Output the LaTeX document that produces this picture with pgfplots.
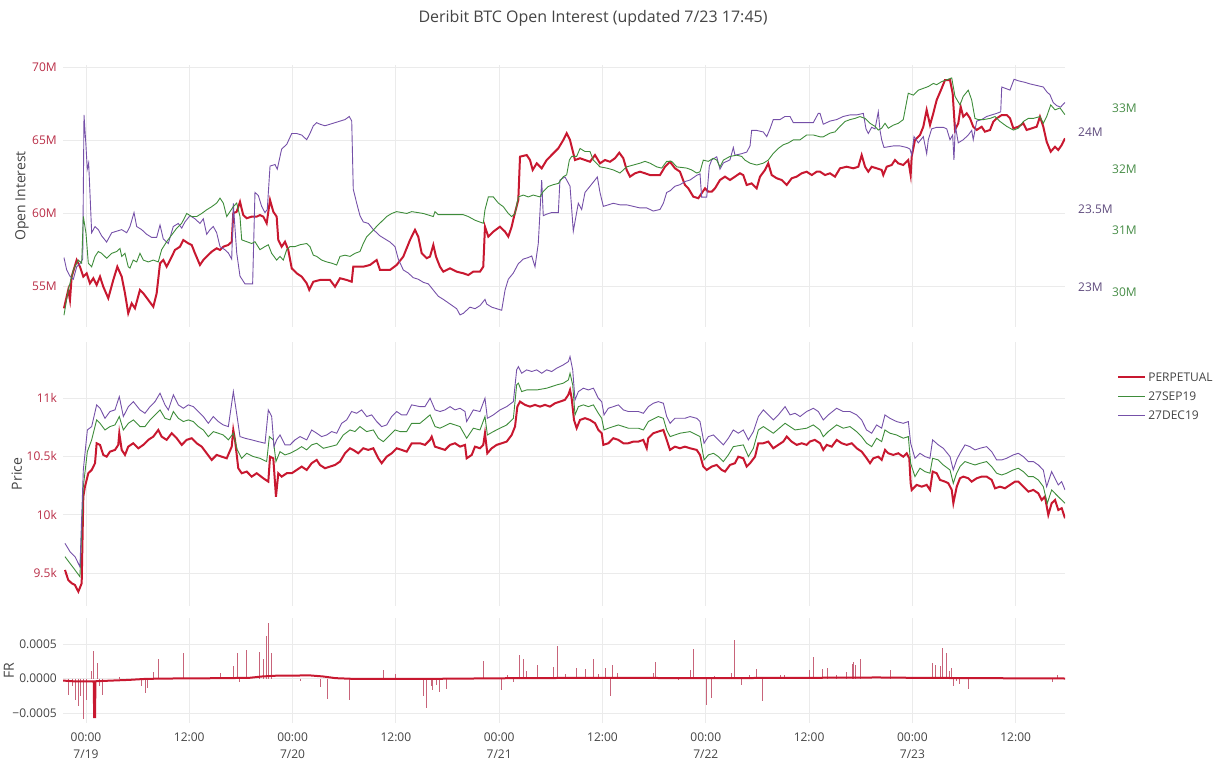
\documentclass[border=0pt]{standalone}
\usepackage{pgfplots}
\pgfplotsset{compat=1.18}
\usepackage{fontspec}
\setmainfont{Open Sans}
\definecolor{cRed}{RGB}{200,24,48}
\definecolor{cGreen}{RGB}{62,140,58}
\definecolor{cPurple}{RGB}{117,80,168}
\definecolor{cThin}{RGB}{200,100,122}
\definecolor{lRed}{RGB}{185,45,70}
\definecolor{lGreen}{RGB}{70,140,70}
\definecolor{lPurple}{RGB}{95,75,125}
\definecolor{gridc}{RGB}{235,235,235}
\definecolor{textc}{RGB}{68,68,68}
\pgfplotsset{
  panel/.style={scale only axis, width=1002pt, xmin=-2.67, xmax=113.73,
    anchor=south west, axis line style={draw=none}, major tick length=0pt,
    xtick={0,12,...,108}, xticklabels={}, enlargelimits=false,
    major grid style={draw=gridc, line width=0.9pt},
    tick label style={font=\fontsize{12}{14}\selectfont, text=textc},
    yticklabel style={inner sep=0pt, xshift=-6pt},
    scaled y ticks=false},
  ylab/.style={every axis y label/.style={at={(axis description cs:#1,0.5)}, rotate=90, anchor=center,
    font=\fontsize{14}{16}\selectfont, text=textc}},
  overlay/.style={scale only axis, width=1002pt, xmin=-2.67, xmax=113.73,
    anchor=south west, axis line style={draw=none}, major tick length=0pt,
    xtick=\empty, enlargelimits=false, yticklabel pos=right,
    tick label style={font=\fontsize{12}{14}\selectfont},
    yticklabel style={inner sep=0pt, anchor=west}, scaled y ticks=false},
}
\begin{document}
\begin{tikzpicture}
\useasboundingbox (0pt,0pt) rectangle (1223pt,771pt);
\node[font=\fontsize{16}{19}\selectfont, text=textc] at (593pt,753pt) {Deribit BTC Open Interest (updated 7/23 17:45)};
% ---------------- TOP: Open Interest ----------------
\begin{axis}[panel, at={(63pt,444pt)}, height=262pt, ymin=52.19, ymax=70.14,
  xmajorgrids, ymajorgrids, ytick={55,60,65,70}, yticklabels={55M,60M,65M,70M},
  yticklabel style={text=lRed},
  ylabel={Open Interest}, ylab=-0.0409]
\addplot[cRed, line width=2pt] coordinates {
(-2.56,53.47) (-2.06,54.73) (-1.86,54.04) (-1.66,55.64) (-1.08,56.78) (-0.70,56.32) (-0.31,55.64) (0.08,55.87) (0.46,55.18) (0.85,55.53) (1.24,55.07) (1.63,55.64) (2.01,54.95) (2.59,54.16) (3.17,55.41) (3.64,56.32) (4.15,55.64) (4.53,54.50) (4.91,53.13) (5.31,53.81) (5.69,53.47) (6.27,54.73) (6.66,54.50) (7.24,54.04) (7.82,53.58) (8.21,54.50) (8.60,56.55) (8.98,56.78) (9.37,56.32) (9.96,57.01) (10.34,57.47) (10.92,57.69) (11.30,58.15) (11.88,57.92) (12.28,57.81) (12.66,57.24) (13.24,56.44) (13.63,56.78) (14.02,57.01) (14.60,57.35) (15.18,57.58) (15.57,57.47) (15.95,57.69) (16.53,57.81) (16.93,58.03) (17.11,59.98) (17.51,60.09) (17.89,60.77) (18.27,59.86) (18.67,59.64) (19.25,59.75) (19.83,59.75) (20.21,59.86) (20.60,59.75) (20.99,59.29) (21.38,60.89) (21.76,60.09) (22.15,59.75) (22.34,58.15) (22.73,57.69) (23.12,58.03) (23.50,57.47) (23.90,56.21) (24.48,55.87) (25.06,55.64) (25.64,55.18) (25.94,54.73) (26.41,55.29) (27.18,55.41) (28.35,55.41) (28.93,54.95) (29.51,55.53) (30.29,55.41) (30.87,55.29) (31.05,56.32) (32.21,56.32) (32.99,56.44) (33.77,56.78) (34.15,56.10) (35.32,56.10) (36.09,56.44) (36.86,57.01) (37.64,58.15) (38.22,58.84) (38.60,58.38) (39.00,57.24) (39.58,56.90) (39.96,57.01) (40.35,57.81) (40.66,57.01) (41.12,56.32) (41.51,55.98) (42.29,56.21) (43.06,55.98) (43.83,55.87) (44.41,55.75) (44.99,55.98) (45.77,55.98) (46.15,56.32) (46.35,59.06) (46.74,58.38) (47.32,58.72) (48.09,59.06) (48.68,58.72) (49.06,58.38) (49.45,59.06) (49.72,59.75) (50.22,60.89) (50.42,63.86) (51.20,63.97) (51.58,63.63) (51.89,62.95) (52.36,63.40) (52.94,63.06) (53.52,63.63) (54.29,64.09) (54.87,64.43) (55.45,65.00) (55.84,65.46) (56.23,65.00) (56.81,63.63) (57.39,63.75) (57.97,63.63) (58.55,63.51) (59.13,63.97) (59.71,63.40) (60.29,63.63) (60.87,63.51) (61.45,63.75) (61.95,64.13) (62.42,63.75) (62.81,62.95) (63.20,62.49) (63.78,62.72) (64.36,62.83) (64.94,62.72) (65.52,62.60) (66.68,62.60) (67.26,63.17) (67.84,63.51) (68.42,63.06) (69.00,62.83) (69.58,61.92) (69.97,61.69) (70.55,61.12) (71.13,61.01) (71.52,61.35) (71.91,61.69) (72.29,61.46) (72.69,61.46) (73.07,61.69) (73.65,62.26) (74.23,62.49) (74.81,62.26) (75.39,62.49) (75.97,62.72) (76.35,62.60) (76.75,61.92) (77.33,62.03) (77.91,61.69) (78.30,62.49) (78.88,62.95) (79.26,63.40) (79.66,62.60) (80.24,62.38) (80.82,62.26) (81.40,61.92) (81.98,62.38) (82.56,62.49) (83.14,62.72) (83.72,62.83) (84.31,62.60) (84.89,62.83) (85.27,62.83) (85.85,62.60) (86.43,62.72) (87.01,62.49) (87.59,63.06) (88.37,63.17) (89.14,63.06) (89.72,63.17) (90.11,63.97) (90.50,63.17) (90.88,62.83) (91.27,63.17) (91.85,63.06) (92.43,62.95) (92.62,62.60) (93.02,63.17) (93.60,63.29) (93.98,63.63) (94.36,63.40) (94.94,63.29) (95.52,63.63) (95.80,62.60) (95.92,63.86) (96.30,65.00) (96.88,65.34) (97.27,65.91) (97.66,67.06) (98.05,66.03) (98.43,66.83) (98.82,67.74) (99.40,68.54) (99.79,69.11) (100.37,69.11) (100.68,68.20) (100.95,65.69) (101.33,66.14) (101.61,67.28) (101.91,66.60) (102.31,66.83) (102.69,66.49) (103.07,65.91) (103.47,65.69) (104.05,65.91) (104.43,65.57) (105.02,65.69) (105.40,66.25) (105.80,66.49) (106.38,66.71) (106.96,66.71) (107.34,66.49) (107.73,65.80) (108.31,65.91) (108.89,66.14) (109.28,65.69) (109.86,65.80) (110.44,65.91) (110.82,66.60) (111.21,65.91) (111.60,64.88) (112.07,64.20) (112.57,64.54) (112.95,64.32) (113.35,64.66) (113.73,65.12)};
\end{axis}
\begin{axis}[overlay, at={(63pt,444pt)}, height=262pt, ymin=22.742, ymax=24.432,
  ytick={23,23.5,24}, yticklabels={23M,23.5M,24M}, yticklabel style={text=lPurple, xshift=13pt}]
\addplot[cPurple, line width=0.9pt] coordinates {
(-2.56,23.19) (-2.24,23.11) (-1.86,23.07) (-1.47,23.05) (-1.08,23.13) (-0.70,23.15) (-0.38,23.18) (-0.23,24.11) (0.00,23.91) (0.15,23.76) (0.31,23.80) (0.46,23.61) (0.66,23.35) (1.05,23.39) (1.43,23.37) (1.82,23.33) (2.40,23.29) (2.99,23.35) (3.57,23.36) (4.15,23.37) (4.73,23.35) (5.11,23.39) (5.58,23.48) (5.89,23.39) (6.47,23.37) (7.05,23.34) (7.63,23.32) (8.21,23.32) (8.60,23.40) (8.98,23.31) (9.56,23.28) (10.14,23.39) (10.72,23.41) (11.12,23.38) (11.50,23.42) (12.08,23.46) (12.66,23.44) (13.24,23.41) (13.63,23.44) (14.02,23.34) (14.41,23.37) (14.79,23.39) (15.18,23.35) (15.57,23.26) (16.15,23.24) (16.53,23.22) (16.93,23.18) (17.11,23.54) (17.51,23.22) (17.89,23.07) (18.47,23.02) (19.36,23.02) (19.63,23.61) (20.02,23.59) (20.41,23.52) (20.79,23.48) (21.06,23.50) (21.38,23.78) (21.96,23.79) (22.22,23.76) (22.73,23.89) (23.32,23.92) (23.90,23.99) (24.48,23.99) (25.06,23.98) (25.64,23.95) (26.02,23.99) (26.41,24.04) (26.80,24.06) (27.18,24.05) (27.76,24.04) (28.35,24.05) (28.93,24.06) (29.51,24.07) (30.09,24.08) (30.59,24.10) (30.87,24.07) (31.05,23.63) (31.45,23.54) (31.83,23.46) (32.21,23.42) (32.80,23.41) (33.38,23.37) (33.77,23.35) (34.15,23.33) (34.73,23.31) (35.32,23.29) (35.90,23.26) (36.28,23.18) (36.86,23.11) (37.44,23.09) (38.02,23.06) (38.60,23.05) (39.19,23.03) (39.77,23.02) (40.35,22.98) (40.93,22.94) (41.51,22.92) (42.29,22.89) (43.06,22.86) (43.45,22.82) (43.83,22.83) (44.22,22.85) (44.61,22.87) (45.19,22.86) (45.77,22.88) (46.35,22.92) (46.55,22.89) (47.13,22.87) (47.71,22.86) (48.29,22.85) (48.68,22.98) (49.06,23.05) (49.64,23.09) (50.22,23.15) (50.80,23.18) (51.38,23.19) (51.78,23.20) (52.16,23.13) (52.54,23.28) (52.94,23.69) (53.12,23.46) (53.52,23.47) (54.10,23.48) (54.87,23.48) (55.06,23.69) (55.64,23.71) (55.84,23.69) (56.23,23.65) (56.61,23.36) (57.19,23.54) (57.58,23.50) (57.97,23.61) (58.55,23.65) (59.13,23.69) (59.40,23.71) (59.71,23.61) (60.10,23.52) (61.26,23.54) (62.03,23.53) (62.81,23.53) (63.58,23.52) (64.36,23.51) (65.14,23.51) (65.90,23.49) (66.68,23.50) (67.07,23.54) (67.46,23.61) (67.84,23.62) (68.42,23.65) (69.00,23.66) (69.58,23.68) (70.17,23.69) (70.94,23.72) (71.33,23.73) (71.52,23.58) (72.11,23.58) (72.41,23.78) (72.69,23.82) (73.27,23.84) (73.65,23.76) (74.04,23.80) (74.81,23.82) (75.20,23.90) (75.39,23.85) (76.17,23.86) (76.75,23.87) (77.14,23.91) (77.33,24.01) (77.91,24.01) (78.68,24.00) (79.08,23.97) (79.46,24.02) (79.84,24.08) (80.62,24.08) (81.20,24.10) (81.78,24.10) (82.17,24.06) (83.72,24.06) (84.49,24.06) (85.07,24.12) (85.27,24.12) (85.65,24.05) (86.43,24.07) (87.21,24.08) (87.97,24.10) (88.75,24.11) (89.53,24.11) (90.30,24.12) (90.61,24.02) (90.88,23.99) (91.27,24.03) (91.66,24.02) (92.04,24.13) (92.24,24.01) (92.43,23.95) (92.70,23.90) (93.78,23.91) (94.56,23.91) (95.34,23.90) (95.72,23.89) (95.92,23.85) (96.19,23.97) (96.69,23.93) (97.27,23.97) (97.66,23.86) (97.85,23.95) (98.24,24.02) (98.82,24.03) (99.59,24.03) (99.99,24.02) (100.37,23.95) (100.68,23.98) (100.83,23.82) (100.99,24.04) (101.33,23.93) (101.91,23.95) (102.49,23.98) (102.89,24.01) (103.07,23.95) (103.47,24.07) (104.05,24.08) (104.63,24.10) (105.21,24.11) (105.80,24.12) (106.26,24.13) (106.38,24.29) (107.34,24.27) (107.81,24.34) (108.31,24.33) (109.08,24.32) (109.66,24.31) (110.44,24.30) (111.21,24.29) (111.60,24.26) (111.98,24.24) (112.36,24.19) (112.76,24.17) (113.22,24.16) (113.53,24.18) (113.73,24.19)};
\end{axis}
\begin{axis}[overlay, at={(63pt,444pt)}, height=262pt, ymin=29.429, ymax=33.701,
  ytick={30,31,32,33}, yticklabels={30M,31M,32M,33M}, yticklabel style={text=lGreen, xshift=47pt}]
\addplot[cGreen, line width=0.9pt] coordinates {
(-2.56,29.62) (-2.06,30.03) (-1.47,30.36) (-0.89,30.52) (-0.50,30.47) (-0.31,31.23) (0.00,30.96) (0.27,30.47) (0.66,30.41) (1.05,30.58) (1.43,30.66) (1.82,30.63) (2.40,30.55) (2.99,30.63) (3.57,30.66) (3.95,30.71) (4.15,30.58) (4.53,30.63) (4.91,30.41) (5.11,30.39) (5.49,30.52) (5.89,30.49) (6.27,30.63) (6.66,30.52) (7.24,30.49) (7.82,30.52) (8.40,30.49) (8.79,30.69) (9.37,30.82) (9.96,30.93) (10.54,31.04) (11.12,31.12) (11.70,31.28) (12.28,31.23) (12.86,31.23) (13.44,31.28) (14.02,31.34) (14.60,31.39) (15.18,31.45) (15.57,31.53) (15.95,31.45) (16.35,31.23) (16.73,31.31) (17.11,31.39) (17.51,31.45) (17.89,31.23) (18.09,30.85) (18.67,30.82) (19.25,30.79) (19.63,30.82) (20.21,30.69) (20.79,30.74) (21.18,30.77) (21.57,30.63) (22.15,30.52) (22.54,30.58) (22.92,30.52) (23.32,30.69) (23.70,30.74) (24.28,30.74) (24.86,30.77) (25.64,30.79) (26.02,30.74) (26.41,30.60) (26.80,30.58) (27.38,30.52) (27.96,30.49) (28.54,30.47) (29.12,30.44) (29.51,30.58) (30.09,30.60) (30.67,30.58) (31.25,30.63) (31.83,30.66) (32.21,30.79) (32.61,30.90) (33.19,30.98) (33.77,31.07) (34.35,31.15) (34.93,31.23) (35.51,31.28) (36.09,31.31) (37.26,31.28) (37.84,31.31) (39.19,31.28) (40.35,31.23) (40.54,31.31) (40.93,31.26) (42.29,31.26) (43.83,31.26) (44.41,31.23) (45.19,31.17) (46.15,31.12) (46.35,31.34) (46.74,31.55) (47.32,31.55) (47.90,31.45) (48.48,31.39) (49.06,31.28) (49.45,31.23) (49.84,31.28) (50.22,31.55) (50.80,31.58) (51.38,31.55) (51.96,31.58) (52.74,31.55) (53.12,31.64) (53.71,31.72) (54.29,31.75) (54.87,31.77) (55.45,31.88) (55.84,31.91) (56.15,32.15) (56.42,32.21) (57.00,32.21) (57.39,32.34) (57.97,32.29) (58.55,32.29) (58.93,32.15) (59.71,32.04) (60.49,32.02) (61.26,31.99) (62.03,31.94) (62.81,32.04) (63.58,32.07) (64.36,32.10) (64.94,32.13) (65.52,32.10) (66.30,32.04) (66.88,32.02) (67.46,32.13) (68.04,32.13) (68.62,32.04) (69.78,32.02) (70.36,31.99) (70.94,31.94) (71.33,31.96) (71.71,32.15) (72.29,32.13) (72.87,32.18) (73.27,32.15) (73.65,32.04) (74.04,32.15) (74.81,32.21) (75.59,32.23) (76.17,32.21) (76.55,32.15) (77.14,32.10) (77.91,32.07) (78.68,32.10) (79.26,32.15) (79.84,32.26) (80.42,32.34) (81.00,32.40) (81.58,32.43) (82.17,32.48) (82.94,32.48) (83.72,32.56) (84.49,32.56) (85.27,32.53) (85.65,32.53) (86.43,32.59) (87.01,32.61) (87.59,32.70) (88.17,32.78) (88.75,32.81) (89.33,32.83) (89.91,32.86) (90.50,32.83) (91.08,32.75) (91.66,32.70) (92.04,32.64) (92.43,32.67) (92.82,32.75) (93.20,32.67) (93.78,32.72) (94.36,32.75) (94.94,32.81) (95.52,33.24) (96.11,33.21) (96.69,33.29) (97.27,33.32) (97.85,33.35) (98.43,33.40) (98.82,33.38) (99.40,33.43) (99.99,33.46) (100.57,33.49) (100.95,33.19) (101.53,33.05) (101.91,33.19) (102.49,33.29) (102.89,33.13) (103.27,32.83) (103.66,32.81) (104.24,32.81) (105.02,32.83) (105.60,32.86) (106.18,32.78) (106.96,32.70) (107.73,32.64) (108.31,32.67) (108.89,32.78) (109.47,32.83) (110.05,32.83) (110.82,32.86) (111.21,32.75) (111.60,32.86) (112.07,33.05) (112.57,32.97) (113.15,33.00) (113.73,32.89)};
\end{axis}
% ---------------- MIDDLE: Price ----------------
\begin{axis}[panel, at={(63pt,165pt)}, height=264pt, ymin=9217, ymax=11480,
  xmajorgrids, ymajorgrids, ytick={9500,10000,10500,11000}, yticklabels={9.5k,10k,10.5k,11k},
  yticklabel style={text=lRed},
  ylabel={Price}, ylab=-0.0462,
  legend style={at={(axis description cs:1.052,0.893)}, anchor=north west, draw=none, fill=none,
    font=\fontsize{12}{14}\selectfont, text=textc, row sep=5pt, inner sep=0pt, cells={anchor=west}},
  legend cell align=left,
  legend image code/.code={\draw[#1] (0pt,0pt) -- (27pt,0pt);}]
\addplot[cRed, line width=2pt] coordinates {
(-2.44,9526) (-2.06,9440) (-1.66,9412) (-1.28,9397) (-0.89,9340) (-0.50,9412) (-0.31,10154) (-0.12,10240) (0.27,10355) (0.66,10383) (1.05,10441) (1.24,10612) (1.63,10598) (2.01,10512) (2.40,10497) (2.79,10540) (3.37,10555) (3.75,10598) (3.87,10698) (4.15,10555) (4.53,10512) (4.91,10583) (5.49,10612) (6.08,10569) (6.66,10598) (7.24,10641) (7.82,10669) (8.40,10726) (8.79,10669) (9.37,10641) (9.96,10698) (10.54,10655) (11.12,10598) (11.70,10641) (12.28,10655) (12.86,10612) (13.44,10583) (14.02,10526) (14.60,10469) (15.18,10512) (15.76,10497) (16.35,10483) (16.93,10583) (17.11,10726) (17.31,10641) (17.69,10398) (18.09,10355) (18.67,10369) (19.25,10326) (19.83,10355) (20.60,10312) (21.18,10283) (21.38,10497) (21.76,10483) (22.07,10154) (22.34,10355) (22.73,10326) (23.32,10355) (23.90,10355) (24.48,10383) (25.06,10412) (25.64,10383) (26.22,10441) (26.80,10469) (27.18,10426) (27.76,10398) (28.35,10412) (28.93,10426) (29.51,10455) (30.09,10526) (30.67,10569) (31.05,10555) (31.63,10526) (32.21,10569) (32.80,10555) (33.38,10569) (33.96,10483) (34.35,10441) (34.93,10497) (35.51,10526) (36.09,10569) (36.67,10555) (37.26,10540) (37.84,10612) (38.80,10612) (39.38,10598) (39.96,10641) (40.16,10669) (40.54,10583) (41.12,10569) (41.70,10555) (42.29,10598) (42.87,10612) (43.45,10583) (44.03,10598) (44.22,10483) (44.81,10512) (45.19,10583) (45.77,10569) (46.15,10598) (46.35,10698) (46.62,10526) (47.13,10569) (47.71,10598) (48.29,10612) (48.87,10626) (49.45,10683) (49.84,10755) (50.11,10926) (50.42,10969) (51.00,10941) (51.58,10926) (52.16,10941) (52.74,10926) (53.32,10941) (53.90,10926) (54.48,10955) (55.06,10969) (55.64,10984) (56.03,11027) (56.23,11069) (56.42,10998) (56.69,10812) (57.00,10741) (57.39,10812) (57.97,10827) (58.55,10812) (59.13,10784) (59.52,10726) (59.91,10698) (60.10,10598) (60.68,10612) (61.26,10655) (61.84,10641) (62.42,10612) (63.00,10612) (63.58,10626) (64.16,10626) (64.74,10641) (65.14,10569) (65.32,10655) (65.90,10698) (66.48,10712) (67.07,10726) (67.46,10641) (67.84,10555) (68.42,10583) (69.00,10569) (69.58,10583) (70.17,10569) (70.94,10555) (71.33,10512) (71.71,10412) (72.11,10383) (72.69,10412) (73.27,10426) (73.85,10383) (74.23,10369) (74.81,10426) (75.39,10441) (75.78,10497) (76.36,10483) (76.75,10412) (77.14,10441) (77.72,10497) (78.10,10612) (78.68,10612) (79.26,10626) (79.84,10569) (80.42,10598) (81.00,10626) (81.40,10669) (81.98,10626) (82.56,10598) (83.14,10612) (83.72,10598) (84.08,10626) (84.66,10641) (85.27,10612) (85.65,10555) (86.05,10598) (86.63,10583) (87.21,10641) (87.79,10612) (88.37,10598) (88.95,10612) (89.53,10569) (90.11,10540) (90.69,10483) (91.08,10441) (91.46,10483) (92.04,10497) (92.43,10469) (92.82,10555) (93.20,10526) (93.78,10512) (94.36,10526) (94.94,10497) (95.34,10526) (95.64,10483) (95.80,10269) (95.92,10212) (96.50,10255) (97.08,10240) (97.66,10255) (98.05,10212) (98.36,10369) (98.82,10355) (99.21,10298) (99.79,10283) (100.18,10269) (100.57,10212) (100.76,10098) (101.15,10240) (101.53,10312) (101.91,10326) (102.49,10312) (102.89,10283) (103.47,10312) (104.05,10326) (104.63,10326) (105.21,10298) (105.60,10226) (106.18,10240) (106.76,10226) (107.34,10255) (107.92,10283) (108.31,10283) (108.89,10240) (109.47,10197) (110.05,10212) (110.63,10183) (111.02,10126) (111.40,10154) (111.79,9997) (112.18,10098) (112.57,10126) (112.95,10040) (113.35,10055) (113.73,9969)};
\addlegendentry{PERPETUAL}
\addplot[cGreen, line width=0.9pt] coordinates {
(-2.44,9640) (-1.86,9583) (-1.28,9526) (-0.70,9468) (-0.31,10240) (0.16,10540) (0.66,10641) (1.24,10812) (1.63,10783) (2.21,10726) (2.79,10755) (3.37,10769) (3.87,10841) (4.34,10726) (4.92,10783) (5.50,10812) (6.27,10755) (6.85,10755) (7.44,10812) (8.02,10855) (8.60,10898) (9.18,10826) (9.76,10812) (10.15,10884) (10.73,10826) (11.31,10798) (11.89,10812) (12.47,10798) (13.05,10755) (13.63,10726) (14.21,10669) (14.79,10712) (15.37,10698) (15.95,10683) (16.54,10641) (17.12,10698) (17.58,10555) (18.08,10483) (18.66,10526) (19.44,10498) (20.21,10483) (20.99,10455) (21.30,10669) (21.76,10641) (22.07,10455) (22.54,10540) (23.12,10512) (23.70,10526) (24.47,10555) (25.05,10583) (25.64,10555) (26.22,10598) (26.80,10612) (27.57,10569) (28.35,10583) (29.12,10598) (29.89,10683) (30.67,10726) (31.25,10712) (31.83,10755) (32.61,10712) (33.38,10726) (33.96,10655) (34.54,10626) (35.12,10669) (35.90,10726) (36.48,10712) (37.25,10712) (37.83,10783) (38.80,10783) (39.97,10855) (40.55,10755) (41.13,10741) (42.29,10783) (43.45,10755) (44.22,10655) (45.00,10741) (45.77,10726) (46.35,10841) (46.63,10683) (47.32,10712) (48.10,10741) (48.87,10769) (49.65,10826) (50.03,11112) (50.23,11127) (50.61,11055) (51.19,11069) (52.36,11069) (53.52,11084) (54.68,11112) (55.45,11127) (56.04,11155) (56.23,11212) (56.54,11112) (56.81,10855) (57.20,10926) (57.78,10941) (58.36,10926) (58.94,10941) (59.52,10869) (59.91,10826) (60.18,10726) (60.68,10741) (61.84,10769) (63.01,10741) (64.17,10741) (64.75,10726) (65.33,10798) (66.49,10841) (67.07,10826) (67.46,10726) (67.85,10669) (69.01,10698) (70.17,10712) (71.33,10669) (71.80,10469) (72.30,10512) (72.88,10526) (73.46,10498) (74.04,10455) (74.62,10512) (75.20,10583) (76.36,10598) (76.95,10498) (77.53,10569) (78.11,10726) (78.69,10755) (79.85,10698) (81.21,10783) (82.37,10726) (83.72,10741) (84.49,10769) (85.26,10726) (85.65,10669) (86.23,10712) (87.20,10769) (87.97,10741) (88.75,10755) (89.52,10712) (90.10,10669) (90.68,10612) (91.27,10583) (91.85,10655) (92.43,10626) (92.81,10726) (93.39,10698) (94.17,10683) (94.94,10655) (95.53,10669) (95.80,10440) (96.30,10326) (96.88,10398) (97.46,10369) (98.04,10355) (98.35,10483) (99.01,10469) (99.59,10426) (100.37,10383) (100.75,10269) (101.14,10355) (101.53,10412) (102.11,10455) (102.69,10440) (103.27,10426) (103.85,10440) (104.62,10455) (105.21,10412) (105.79,10355) (106.37,10340) (106.95,10355) (107.72,10383) (108.30,10398) (108.88,10369) (109.47,10326) (110.05,10326) (110.63,10297) (111.21,10240) (111.67,10097) (112.18,10212) (112.56,10183) (112.95,10154) (113.73,10097)};
\addlegendentry{27SEP19}
\addplot[cPurple, line width=0.9pt] coordinates {
(-2.44,9754) (-1.86,9683) (-1.28,9640) (-0.70,9554) (-0.31,10383) (0.16,10726) (0.66,10755) (1.24,10941) (1.63,10912) (2.21,10826) (2.79,10884) (3.37,10898) (3.87,11012) (4.34,10841) (4.92,10926) (5.50,10969) (6.27,10898) (6.85,10869) (7.44,10926) (8.02,10969) (8.60,11041) (9.18,10941) (9.57,10898) (10.15,11027) (10.73,10941) (11.31,10912) (11.89,10941) (12.47,10926) (13.05,10884) (13.63,10841) (14.21,10783) (14.79,10841) (15.37,10798) (15.95,10769) (16.54,10755) (17.12,11055) (17.50,10869) (17.89,10669) (18.47,10655) (19.25,10641) (20.02,10626) (20.80,10612) (21.18,10898) (21.57,10841) (21.84,10583) (22.15,10641) (22.54,10683) (23.12,10598) (23.70,10598) (24.28,10641) (24.86,10669) (25.64,10641) (26.22,10726) (26.80,10698) (27.38,10669) (27.96,10683) (28.54,10712) (29.12,10698) (29.70,10783) (30.28,10812) (30.86,10884) (31.44,10869) (32.02,10898) (32.61,10841) (33.19,10855) (33.77,10798) (34.35,10755) (34.93,10769) (35.51,10841) (36.09,10884) (36.67,10855) (37.25,10855) (37.83,10941) (38.80,10926) (39.38,10926) (39.97,10998) (40.55,10898) (41.13,10884) (41.71,10898) (42.29,10926) (42.87,10898) (43.45,10912) (44.03,10884) (44.22,10798) (45.00,10898) (45.77,10884) (46.35,10998) (46.63,10826) (47.32,10855) (48.10,10898) (48.87,10926) (49.65,10969) (50.03,11241) (50.23,11269) (50.61,11212) (51.19,11241) (51.78,11227) (52.36,11241) (52.94,11212) (53.52,11241) (54.10,11227) (54.68,11255) (55.45,11284) (56.04,11312) (56.23,11355) (56.54,11241) (56.81,10984) (57.20,11055) (57.78,11084) (58.36,11069) (58.94,11084) (59.52,10998) (59.91,10969) (60.18,10855) (60.68,10912) (61.26,10926) (61.84,10941) (62.42,10898) (63.01,10884) (63.59,10884) (64.17,10884) (64.75,10869) (65.33,10926) (65.91,10955) (66.49,10969) (67.07,10955) (67.46,10841) (67.85,10783) (68.43,10826) (69.01,10826) (69.59,10826) (70.17,10841) (70.94,10826) (71.33,10798) (71.80,10612) (72.30,10669) (72.88,10683) (73.46,10641) (74.04,10598) (74.62,10655) (75.20,10726) (75.78,10698) (76.36,10726) (76.95,10641) (77.53,10712) (78.11,10841) (78.69,10898) (79.27,10855) (79.85,10812) (80.43,10855) (81.21,10926) (81.79,10855) (82.37,10869) (82.95,10841) (83.72,10884) (84.49,10912) (85.07,10884) (85.65,10812) (86.23,10855) (87.20,10912) (87.97,10884) (88.75,10884) (89.52,10855) (90.10,10812) (90.68,10726) (91.27,10698) (91.85,10769) (92.43,10741) (92.81,10855) (93.39,10826) (94.17,10798) (94.94,10783) (95.53,10798) (95.80,10612) (96.30,10483) (96.88,10526) (97.46,10498) (98.04,10483) (98.35,10641) (99.01,10598) (99.59,10569) (100.37,10498) (100.75,10383) (101.14,10469) (101.53,10526) (102.11,10598) (102.69,10583) (103.27,10555) (103.85,10569) (104.62,10583) (105.21,10540) (105.79,10469) (106.37,10469) (106.95,10483) (107.72,10512) (108.30,10526) (108.88,10498) (109.47,10455) (110.05,10455) (110.63,10426) (111.21,10383) (111.60,10240) (112.18,10369) (112.56,10312) (112.95,10255) (113.34,10283) (113.73,10212)};
\addlegendentry{27DEC19}
\end{axis}
% ---------------- BOTTOM: FR ----------------
\begin{axis}[panel, at={(63pt,48pt)}, height=105pt, ymin=-0.000645, ymax=0.000877,
  xmajorgrids, ymajorgrids, ytick={-0.0005,0,0.0005}, yticklabels={−0.0005,0.0000,0.0005},
  xticklabels={{00:00\\7/19},{12:00},{00:00\\7/20},{12:00},{00:00\\7/21},{12:00},{00:00\\7/22},{12:00},{00:00\\7/23},{12:00}},
  xticklabel style={align=center, font=\fontsize{12}{17}\selectfont, inner sep=0pt, yshift=-10pt},
  ylabel={FR}, ylab=-0.0539]
\addplot[ycomb, cThin, line width=0.9pt] coordinates {
(-2.06,-0.000234) (-1.60,-0.000112) (-1.28,-0.000307) (-0.92,-0.000405) (-0.60,-0.000259) (-0.32,-0.00059) (0.00,-0.000307) (0.60,0.000107) (0.92,0.0004) (1.28,0.000229) (1.60,-0.000112) (1.97,-0.000234) (3.89,0.00002) (6.41,-0.00011) (6.87,-0.00021) (7.19,-0.00014) (7.79,0.0000927) (8.47,0.000288) (11.31,0.000366) (15.57,0.0000732) (17.18,0.00018) (17.54,0.000366) (17.86,-0.0000537) (18.64,0.000415) (20.15,0.00039) (20.61,0.000278) (20.93,0.00061) (21.21,0.000805) (21.53,0.000376) (24.96,-0.00003) (27.25,-0.000122) (28.07,-0.000293) (30.64,-0.000312) (34.58,0.000122) (35.95,0.0000585) (39.25,-0.000249) (39.53,-0.000429) (40.08,-0.000102) (40.30,-0.000161) (40.76,-0.0000878) (41.08,-0.0002) (41.91,-0.000151) (46.12,0.000254) (48.23,-0.000161) (49.01,0.0000537) (49.61,-0.0000537) (50.39,0.000337) (50.84,0.000288) (51.20,0.000107) (52.44,0.00019) (54.27,0.000166) (54.73,0.000473) (55.65,0.0000634) (57.02,0.000146) (58.07,0.000132) (58.95,0.000288) (59.54,0.0000634) (60.37,0.000156) (60.91,-0.000259) (61.10,0.00019) (61.76,0.000083) (65.91,0.000083) (66.14,0.000239) (68.82,-0.0000244) (70.20,0.000117) (70.52,0.000434) (72.05,-0.00039) (72.60,-0.000283) (72.97,0.0000341) (75.00,0.0000732) (75.28,0.000551) (76.15,-0.0000927) (77.12,0.0000488) (77.91,0.000132) (78.60,-0.000332) (80.68,0.0000537) (81.14,0.0000537) (84.05,0.000122) (84.51,0.000317) (85.61,0.000137) (86.08,0.000151) (87.23,0.0000439) (88.29,0.0000927) (88.98,0.000205) (89.21,0.000239) (89.44,0.0002) (89.91,0.000288) (93.46,0.000122) (96.97,0.0000244) (98.35,0.00022) (98.68,0.0002) (99.28,0.00018) (99.55,0.000449) (99.97,0.000366) (100.29,0.000107) (100.52,0.000156) (100.75,-0.000102) (101.08,-0.000039) (101.44,-0.0000829) (102.51,-0.000146) (112.29,-0.0000488) (112.84,0.0000439)};
\addplot[cRed, line width=2pt] coordinates {
(-2.67,-0.00003) (-1.5,-0.00004) (0.5,-0.00004) (0.9,-0.00004) (0.95,-0.00056) (1.05,-0.00056) (1.1,-0.00004) (3,-0.00003) (5,-0.00002) (7,-0.000005) (10,0) (16,0.000005) (19,0.00001) (20.5,0.00003) (22,0.00004) (26,0.000045) (27.5,0.00003) (29,0.000005) (31,-0.000005) (40,-0.000005) (50,0.000005) (60,0.00001) (72,0.000005) (84,0.00001) (92,0.000015) (96,0.00001) (104,0.000005) (113.73,0.0)};
\end{axis}
\end{tikzpicture}
\end{document}
